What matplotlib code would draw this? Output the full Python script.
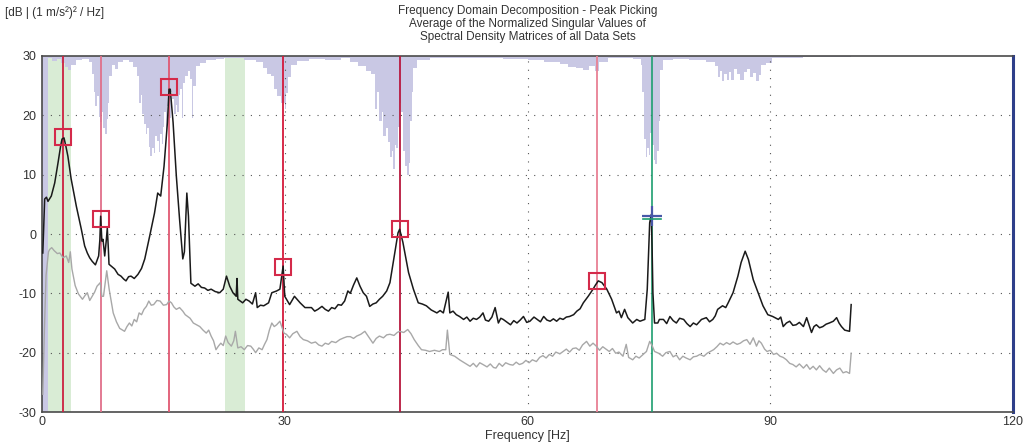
import matplotlib
matplotlib.use("Agg")
import matplotlib.pyplot as plt

# ---- data ----
# average of normalized singular values, 1st singular value (black)
sv1_freq = [0.10, 0.33, 0.55, 0.74, 1.15, 1.57, 1.98, 2.3, 2.47, 2.72, 2.95, 3.2, 3.6, 4.24, 4.86, 5.27, 5.6,
            5.89, 6.2, 6.6, 7.0, 7.15, 7.25, 7.4, 7.54, 7.75, 7.95, 8.07, 8.2, 8.28, 8.98, 9.4, 9.76, 10.1,
            10.38, 10.7, 11.0, 11.4, 11.86, 12.3, 12.7, 13.3, 13.9, 14.3, 14.67, 15.08, 15.5, 15.7, 15.85,
            16.2, 16.6, 17.0, 17.4, 17.6, 17.9, 18.1, 18.4, 18.9, 19.3, 19.7, 20.1, 20.5, 20.9, 21.4, 21.96,
            22.4, 22.8, 23.2, 23.6, 24.0, 24.1, 24.2, 24.8, 25.2, 25.6, 26.0, 26.4, 26.6, 27.0, 27.4, 28.0,
            28.4, 29.0, 29.4, 29.8, 30.0, 30.6, 31.2, 31.9, 32.5, 33.3, 33.7, 34.1, 34.6, 35.0, 35.4, 35.8,
            36.2, 36.6, 37.0, 37.4, 37.8, 38.1, 38.5, 38.9, 39.3, 39.7, 40.1, 40.5, 40.9, 41.3, 41.7, 42.1,
            42.6, 43.0, 43.6, 44.0, 44.2, 44.6, 45.3, 45.9, 46.5, 47.0, 47.5, 48.1, 48.8, 49.2, 49.6, 50.2,
            50.4, 50.8, 51.2, 51.6, 52.1, 52.5, 52.9, 53.3, 53.7, 54.1, 54.5, 54.8, 55.2, 55.6, 56.0, 56.4,
            56.7, 57.0, 57.4, 57.9, 58.3, 58.7, 59.1, 59.5, 59.9, 60.3, 60.8, 61.2, 61.6, 62.0, 62.4, 62.8,
            63.2, 63.6, 64.0, 64.4, 64.8, 65.2, 65.7, 66.1, 66.5, 66.9, 67.5, 68.1, 68.4, 68.75, 69.2, 69.8,
            70.4, 71.0, 71.3, 71.6, 72.0, 72.4, 73.0, 73.5, 73.9, 74.5, 74.8, 75.1, 75.3, 75.4, 75.5, 75.7,
            76.1, 76.3, 76.8, 77.2, 77.6, 78.0, 78.4, 78.8, 79.3, 79.7, 80.1, 80.5, 80.9, 81.5, 82.1, 82.5,
            82.9, 83.2, 83.5, 84.1, 84.5, 84.8, 85.4, 86.0, 86.4, 86.9, 87.3, 87.9, 88.5, 89.1, 89.7, 90.3,
            91.0, 91.3, 91.6, 92.0, 92.4, 92.8, 93.2, 93.6, 94.1, 94.5, 95.1, 95.4, 95.7, 96.1, 96.5, 96.9,
            97.3, 97.8, 98.2, 98.5, 98.8, 99.2, 99.8, 100.0]
sv1_db = [-3.2, 5.9, 6.2, 5.5, 6.4, 8.6, 12.0, 14.8, 16.0, 16.2, 14.8, 13.1, 9.3, 4.7, 0.8, -2.0, -3.2,
          -4.0, -4.6, -5.2, -3.7, -1.0, 3.0, -1.2, -0.9, -3.7, -1.0, 1.0, -2.5, -5.1, -5.9, -6.8, -7.1, -7.6,
          -7.9, -7.2, -7.1, -7.5, -6.8, -5.8, -4.2, -0.4, 3.5, 6.9, 6.4, 11.4, 18.8, 24.4, 24.4,
          18.8, 9.8, 2.5, -4.2, -3.0, 6.9, 3.0, -8.3, -8.8, -8.4, -9.0, -9.1, -9.5, -9.3, -9.7, -9.9,
          -9.3, -7.1, -8.8, -9.9, -10.5, -7.5, -11.0, -11.6, -11.0, -11.3, -11.8, -9.9, -12.4, -12.0, -12.1, -11.6,
          -9.9, -9.6, -9.3, -5.4, -10.5, -11.9, -10.5, -11.6, -12.4, -12.4, -13.0, -12.7, -12.2, -12.7, -13.0, -12.4,
          -12.6, -11.9, -12.0, -11.3, -9.6, -10.0, -8.6, -7.4, -8.8, -9.9, -10.5, -12.2, -11.8, -11.6, -11.0, -10.5,
          -9.6, -8.2, -3.2, 0.2, 0.8, -1.4, -6.5, -9.3, -11.6, -11.8, -12.1, -12.8, -13.3, -12.9, -13.3, -9.8,
          -13.3, -13.0, -13.6, -13.9, -14.4, -14.0, -14.7, -14.2, -14.4, -14.0, -13.3, -14.5, -14.7, -14.0, -12.4, -15.0,
          -14.2, -14.4, -14.8, -15.3, -14.6, -15.0, -14.5, -13.9, -14.9, -14.7, -14.0, -14.4, -14.8, -13.9, -14.5, -14.7,
          -14.3, -14.7, -14.2, -14.4, -14.0, -13.9, -13.6, -13.0, -12.6, -11.6, -10.5, -9.3, -8.6, -7.9, -8.2, -9.3,
          -11.0, -13.3, -13.0, -14.1, -12.7, -14.1, -15.0, -14.4, -14.7, -14.4, -9.3, 1.9, 3.3, -2.5, -9.9, -15.0,
          -15.0, -14.4, -14.4, -15.1, -13.9, -14.6, -15.0, -14.2, -14.4, -15.1, -15.6, -15.0, -15.3, -14.4, -14.1, -14.8,
          -14.4, -13.8, -12.7, -12.1, -12.4, -11.6, -9.9, -7.1, -4.8, -2.9, -4.3, -7.7, -9.9, -12.1, -13.6, -13.9,
          -14.4, -14.0, -15.6, -15.0, -14.7, -15.4, -15.3, -14.9, -15.6, -14.1, -16.6, -15.6, -15.3, -15.8, -15.6, -15.2,
          -15.0, -14.7, -14.1, -15.0, -15.6, -16.2, -16.4, -11.9]

# 2nd singular value (grey)
sv2_freq = [0.1, 0.3, 0.5, 0.8, 0.95, 1.2, 1.5, 1.9, 2.2, 2.6, 3.0, 3.3, 3.5, 3.7, 4.1, 4.5, 5.0, 5.3, 5.6,
            5.9, 6.2, 6.5, 6.8, 7.2, 7.4, 7.6, 8.0, 8.3, 8.8, 9.2, 9.6, 10.2, 10.5, 10.8, 11.1, 11.4, 11.7,
            12.0, 12.3, 12.6, 12.9, 13.2, 13.5, 13.8, 14.2, 14.6, 15.0, 15.4, 15.7, 16.0, 16.3, 16.6, 17.0,
            17.4, 17.7, 18.0, 18.3, 18.7, 19.1, 19.5, 19.9, 20.3, 20.6, 20.9, 21.2, 21.5, 21.8, 22.1, 22.4,
            22.7, 23.0, 23.4, 23.7, 23.9, 24.2, 24.6, 25.0, 25.4, 25.8, 26.1, 26.4, 26.8, 27.2, 27.5, 27.8,
            28.1, 28.4, 28.7, 29.0, 29.4, 29.9, 30.2, 30.6, 31.0, 31.5, 31.9, 32.3, 32.8, 33.3, 33.8, 34.2,
            34.6, 35.0, 35.4, 35.8, 36.3, 36.8, 37.3, 37.7, 38.1, 38.5, 38.9, 39.4, 39.9, 40.4, 40.9, 41.3,
            41.7, 42.2, 42.6, 43.0, 43.5, 43.9, 44.2, 44.7, 45.2, 45.6, 46.0, 46.5, 46.9, 47.4, 47.9, 48.5,
            49.1, 49.5, 49.9, 50.1, 50.4, 51.0, 51.6, 52.2, 52.9, 53.3, 53.7, 54.1, 54.5, 55.0, 55.4, 55.8,
            56.1, 56.5, 56.9, 57.3, 57.8, 58.2, 58.6, 59.0, 59.4, 59.8, 60.2, 60.6, 61.1, 61.5, 61.9, 62.3,
            62.7, 63.1, 63.5, 64.0, 64.4, 64.8, 65.2, 65.6, 66.0, 66.4, 66.8, 67.3, 67.7, 68.1, 68.5, 68.9,
            69.3, 69.7, 70.1, 70.5, 70.9, 71.3, 71.8, 72.0, 72.2, 72.5, 73.0, 73.4, 73.8, 74.3, 74.7, 75.1,
            75.4, 75.7, 76.2, 76.7, 77.1, 77.6, 78.0, 78.4, 78.8, 79.2, 79.6, 80.1, 80.5, 80.9, 81.3, 81.8,
            82.2, 82.6, 83.0, 83.4, 83.8, 84.2, 84.6, 85.0, 85.4, 85.9, 86.3, 86.7, 87.1, 87.5, 87.9, 88.3,
            88.6, 88.9, 89.3, 89.6, 90.0, 90.4, 90.8, 91.2, 91.6, 92.0, 92.4, 92.8, 93.2, 93.6, 94.1, 94.5,
            94.9, 95.3, 95.7, 96.1, 96.5, 96.9, 97.3, 97.8, 98.2, 98.6, 99.0, 99.4, 99.8, 100.0]
sv2_db = [-27.0, -16.0, -7.0, -3.0, -2.6, -2.3, -2.8, -3.3, -3.2, -4.0, -3.7, -4.8, -3.0, -5.9, -8.7, -10.1, -11.0, -10.4, -9.9,
          -11.2, -10.5, -9.8, -8.8, -8.2, -10.5, -10.5, -6.2, -9.3, -13.3, -14.8, -15.9, -16.4, -15.6, -15.0, -15.5, -14.4, -14.8,
          -13.3, -13.6, -12.7, -12.2, -11.3, -12.0, -11.9, -11.2, -11.3, -12.0, -11.9, -11.3, -11.6, -12.3, -12.7, -12.4,
          -13.0, -13.6, -13.9, -14.2, -15.0, -15.3, -15.6, -16.2, -16.7, -16.2, -17.2, -18.0, -19.5, -18.9, -18.4, -18.8,
          -17.2, -18.3, -18.9, -18.0, -16.4, -19.2, -19.0, -19.5, -18.8, -18.9, -19.4, -20.0, -19.2, -19.5, -18.6, -17.8,
          -16.2, -15.0, -15.6, -15.3, -14.7, -16.7, -16.9, -17.5, -16.8, -16.4, -17.3, -17.8, -18.0, -18.4, -18.2, -18.7,
          -18.9, -18.4, -18.6, -18.1, -18.3, -17.8, -17.5, -17.3, -17.3, -17.6, -17.2, -16.9, -16.4, -17.4, -18.4, -17.6,
          -17.2, -17.5, -17.0, -16.9, -17.1, -16.6, -16.4, -16.6, -16.1, -16.8, -17.8, -18.8, -19.5, -19.6, -19.8, -19.6,
          -19.8, -19.5, -19.5, -16.2, -20.3, -20.6, -21.2, -21.7, -22.3, -21.8, -22.4, -21.7, -22.0, -22.4, -21.9, -22.5,
          -22.6, -21.8, -22.3, -21.7, -22.0, -22.1, -21.6, -22.0, -21.8, -21.3, -21.7, -21.2, -21.5, -20.8, -20.5, -20.9,
          -20.3, -20.6, -19.9, -20.2, -19.8, -19.4, -19.9, -19.3, -19.2, -19.6, -18.7, -18.1, -18.9, -18.4, -18.9, -19.6,
          -19.0, -19.4, -19.8, -19.3, -20.1, -19.9, -20.6, -19.6, -18.6, -20.8, -21.2, -20.6, -20.9, -20.3, -19.8, -18.1,
          -18.8, -19.8, -20.1, -20.6, -20.0, -19.8, -20.7, -20.4, -21.2, -20.6, -20.9, -21.2, -20.7, -20.6, -20.3, -20.6,
          -20.1, -19.8, -19.5, -19.0, -18.4, -18.7, -18.3, -18.6, -18.2, -18.6, -18.4, -18.0, -17.8, -18.6, -17.5, -18.9,
          -18.0, -18.4, -19.4, -19.8, -19.6, -20.3, -20.1, -20.6, -20.8, -21.2, -21.8, -22.0, -22.4, -21.9, -22.6, -22.0,
          -22.8, -22.3, -22.9, -22.2, -22.9, -23.3, -22.6, -23.5, -22.9, -22.6, -23.4, -23.2, -23.5, -20.1]

# mode indicator shading hanging from the top (lower edge level in dB)
mi_freq = [0.74, 1.2, 1.8, 2.4, 2.8, 3.2, 3.6, 4.2, 5.0, 5.8, 6.2, 6.4, 6.6, 6.8, 7.0, 7.2, 7.4, 7.6, 7.8, 8.0,
           8.2, 8.3, 8.6, 9.0, 9.4, 10.0, 10.8, 11.3, 11.7, 12.0, 12.2, 12.4, 12.6, 12.8, 13.0, 13.2, 13.4,
           13.6, 13.8, 14.0, 14.2, 14.4, 14.6, 14.8, 15.0, 15.1, 15.3, 15.5, 15.7, 15.9, 16.1, 16.3, 16.5,
           16.7, 16.9, 17.1, 17.3, 17.4, 17.7, 18.0, 18.3, 18.55, 18.7, 19.0, 19.5, 20.3, 21.5, 22.5, 25.0,
           26.5, 27.3, 27.8, 28.3, 28.7, 29.1, 29.5, 30.0, 30.2, 30.4, 30.8, 31.5, 33.0, 35.0, 37.0, 38.1,
           39.0, 40.0, 40.6, 41.1, 41.4, 41.7, 42.0, 42.2, 42.5, 42.8, 43.0, 43.2, 43.4, 43.6, 43.8, 44.0,
           44.2, 44.4, 44.6, 44.9, 45.1, 45.3, 45.5, 45.7, 45.9, 46.3, 48.0, 52.0, 57.0, 60.0, 62.0, 64.0,
           65.0, 66.0, 66.9, 67.6, 68.3, 68.8, 70.0, 73.0, 74.0, 74.2, 74.4, 74.6, 74.8, 75.0, 75.2, 75.4,
           75.6, 75.8, 76.0, 76.2, 76.4, 76.7, 78.0, 80.0, 82.0, 83.2, 83.5, 83.8, 84.0, 84.3, 84.6, 84.9,
           85.2, 85.5, 85.9, 86.3, 86.7, 87.1, 87.5, 87.9, 88.3, 88.6, 88.9, 89.5, 90.2, 92.0, 94.0, 97.0, 100.0]
mi_db = [29.6, 29.2, 29.5, 28.8, 28.2, 27.6, 28.4, 29.3, 29.5, 29.0, 27.0, 24.0, 21.5, 23.2, 19.8, 18.8, 20.5, 17.9, 16.8, 19.3,
         22.0, 26.6, 28.5, 27.8, 29.0, 29.4, 29.0, 28.2, 26.6, 22.1, 23.5, 20.3, 18.5, 16.9, 17.8, 14.7, 13.1,
         14.5, 13.7, 16.5, 15.6, 13.8, 16.8, 15.2, 18.0, 20.5, 17.5, 21.5, 19.5, 24.0, 22.7, 20.2, 21.8,
         20.6, 23.5, 24.5, 19.6, 25.5, 26.7, 27.5, 26.2, 19.6, 25.0, 28.3, 28.8, 29.3, 29.5, 29.7, 29.4,
         29.0, 28.0, 27.0, 26.6, 24.5, 23.2, 22.0, 21.0, 23.8, 26.5, 28.4, 29.2, 29.5, 29.3, 29.6, 29.0,
         28.3, 27.5, 27.0, 21.0, 24.0, 19.0, 20.5, 16.5, 17.8, 15.5, 13.0, 14.0, 11.0, 15.0, 14.5, 18.0,
         22.0, 20.5, 14.0, 11.5, 10.0, 12.0, 19.0, 24.0, 28.0, 29.3, 29.6, 29.7, 29.5, 29.3, 29.0, 28.6,
         28.2, 27.9, 27.7, 28.3, 27.5, 29.0, 29.6, 29.5, 28.5, 24.0, 16.0, 13.0, 14.5, 13.3, 17.0, 15.0,
         12.5, 11.8, 14.0, 19.0, 27.7, 29.3, 29.5, 29.4, 29.0, 28.3, 26.5, 27.5, 25.8, 27.0, 26.0, 27.3,
         26.0, 27.8, 27.0, 26.0, 27.3, 27.8, 26.5, 27.2, 25.8, 26.8, 28.5, 28.9, 29.6, 29.7, 29.8, 29.8, 30.0]

# picked peaks (frequency, level) and their line colours
peak_freq = [2.6, 7.33, 15.75, 29.78, 44.2, 68.6]
peak_db = [16.3, 2.6, 24.7, -5.5, 0.8, -7.85]
peak_colors = ["#cc2040", "#e0708a", "#e05872", "#d41a3c", "#b8183e", "#e88094"]
# selected (green) line with cursor cross
cursor_freq = 75.35
cursor_db = 3.1
cursor_line_db = 2.6

# excluded / marked frequency bands
excluded_band = (0.0, 0.74)
green_bands = [(0.74, 3.55), (22.6, 25.05)]

xticks = [0, 30, 60, 90, 120]
yticks = [-30, -20, -10, 0, 10, 20, 30]

plt.rcParams['font.family'] = ['Liberation Sans', 'DejaVu Sans']
plt.rcParams['axes.unicode_minus'] = False

fig = plt.figure(figsize=(10.31, 4.44), dpi=100)
ax = fig.add_axes([42 / 1031., 32 / 444., 971 / 1031., 356 / 444.])

lavender = "#c9c8e4"
ax.axvspan(excluded_band[0], excluded_band[1], color=lavender, lw=0, zorder=1)
for lo, hi in green_bands:
    ax.axvspan(lo, hi, color="#d9ecd5", lw=0, zorder=1)

# mode indicator hanging from the top
ax.fill_between(mi_freq, mi_db, 30, step="post", color=lavender, lw=0, zorder=1)

# dotted grid
for v in [-20, -10, 0, 10, 20]:
    ax.axhline(v, color="#555555", lw=0.8, ls=(0, (1, 6.5)), zorder=2)
for v in [30, 60, 90]:
    ax.axvline(v, color="#555555", lw=0.8, ls=(0, (1, 6.5)), zorder=2)

# peak lines
for f, c in zip(peak_freq, peak_colors):
    ax.axvline(f, color=c, lw=1.3, zorder=3)
ax.axvline(cursor_freq, color="#1e9e70", lw=1.2, zorder=3)

# singular value curves
ax.plot(sv2_freq, sv2_db, color="#a8a8a8", lw=1.0, zorder=4)
ax.plot(sv1_freq, sv1_db, color="#1a1a1a", lw=1.1, zorder=5)

# peak markers
for f, d, c in zip(peak_freq, peak_db, peak_colors):
    ax.plot([f], [d], marker="s", ms=11.5, mfc="none", mec="#d42a4a", mew=1.5, zorder=6)

# cursor cross
ax.plot([cursor_freq], [cursor_db], marker="+", ms=15, mew=1.6, color="#4858a8", zorder=7)
ax.plot([cursor_freq - 1.1, cursor_freq + 1.1], [cursor_line_db, cursor_line_db], color="#1e9e70", lw=1.2, zorder=7)

ax.set_xlim(0, 120)
ax.set_ylim(-30, 30)
ax.set_xticks(xticks)
ax.set_yticks(yticks)
ax.tick_params(length=0, labelsize=9, colors="#333333", pad=4)
ax.tick_params(axis="x", pad=3)

for side in ["left", "bottom", "top"]:
    ax.spines[side].set_color("#4a4a4a")
    ax.spines[side].set_linewidth(1.2)
ax.spines["right"].set_color("#2e3f8a")
ax.spines["right"].set_linewidth(2.2)

fig.text(5 / 1031., 1 - 13 / 444., "[dB | (1 m/s\u00b2)\u00b2 / Hz]", fontsize=8.5, color="#333333", va="center")
fig.text(527.5 / 1031., 1 - 24 / 444.,
         "Frequency Domain Decomposition - Peak Picking\n"
         "Average of the Normalized Singular Values of\n"
         "Spectral Density Matrices of all Data Sets",
         fontsize=8.5, color="#333333", ha="center", va="center", linespacing=1.15)
fig.text(527.5 / 1031., 1 - 436 / 444., "Frequency [Hz]", fontsize=9, color="#333333", ha="center", va="center")

fig.savefig("out.png", dpi=100)
